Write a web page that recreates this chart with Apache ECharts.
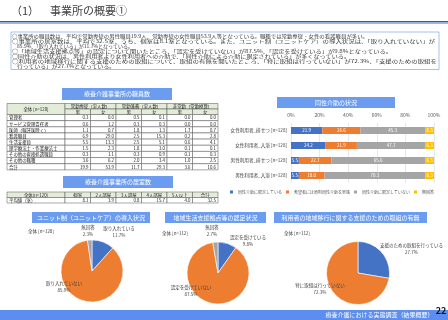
<!DOCTYPE html>
<html><head><meta charset="utf-8">
<script src="https://cdn.jsdelivr.net/npm/echarts@6/dist/echarts.min.js"></script>
<style>html,body{margin:0;padding:0;background:#fff}#c{width:448px;height:320px}</style>
</head><body><div id="c"></div>
<script>
// ---------------- DATA ----------------
const pageTitleNo = '（1）';
const pageTitle = '事業所の概要①';
const summaryLines = [
  '○事業所の職員数は、平均で常勤専従の男性職員19.9人、常勤専従の女性職員53.9人等となっている。職種では常勤専従・女性の看護職員が多い。',
  '○事業所の居室数は、平均で32.5室、うち、個室は8.1室となっている。また、ユニット制（ユニットケア）の導入状況は、「取り入れていない」が',
  '85.9%、「取り入れている」が11.7%となっている。',
  '○「地域生活支援拠点等」の認定について聞いたところ、「認定を受けていない」が87.5%、「認定を受けている」が9.8%となっている。',
  '○同性介助の状況は、男性利用者より女性利用者への介助で、「同性介助による介助に限定されている」が多くなっている。',
  '○利用者の地域移行に関する支援のための取組について、取組の有無を聞いたところ、「特に取組は行っていない」が72.3%、「支援のための取組を',
  '行っている」が27.7%となっている。'
];

const staffTitle = '療養介護事業所の職員数';
const staffCorner = '全体 [n=120]';
const staffGroups = ['常勤専従（実人数）', '常勤兼務（実人数）', '非常勤（常勤換算）'];
const staffSexes = ['男', '女'];
const staffRoles = ['管理者', 'サービス管理責任者', '医師（嘱託医除く）', '看護職員', '生活支援員', '理学療法士・作業療法士', 'その他の直接処遇職員', 'その他の職種', '合計'];
const staffFullMale   = [0.3, 0.6, 1.1, 6.9, 5.5, 1.5, 0.3, 3.6, 19.9];
const staffFullFemale = [0.0, 1.2, 0.7, 29.0, 13.3, 2.3, 1.1, 6.2, 53.9];
const staffConcMale   = [0.5, 0.3, 1.8, 2.5, 2.5, 1.8, 0.3, 2.0, 11.7];
const staffConcFemale = [0.1, 0.3, 1.3, 15.3, 5.1, 3.0, 0.9, 3.4, 29.3];
const staffPartMale   = [0.0, 0.0, 1.7, 0.2, 0.6, 0.1, 0.1, 1.0, 3.6];
const staffPartFemale = [0.0, 0.0, 0.7, 2.8, 4.1, 0.1, 0.3, 2.5, 10.6];

const roomTitle = '療養介護事業所の居室数';
const roomCorner = '全体[n=120]';
const roomRowLabel = '平均値（室）';
const roomTypes = ['個室', '2人部屋', '3人部屋', '4人部屋', '5人以上', '合計'];
const roomAvg = [8.1, 3.9, 0.8, 15.7, 4.0, 32.5];

const careTitle = '同性介助の状況';
const careCats = ['女性利用者_排せつ [n=128]', '女性利用者_入浴 [n=128]', '男性利用者_排せつ [n=128]', '男性利用者_入浴 [n=128]'];
const careNames = ['同性介助に限定している', '希望者には原則同性介助を実施', '同性介助に限定していない', '無回答'];
const careLimited    = [21.9, 24.2, 5.5, 5.5];
const careByRequest  = [26.6, 21.9, 22.7, 18.0];
const careNotLimited = [45.3, 47.7, 65.6, 70.3];
const careNoAnswer   = [6.3, 6.3, 6.3, 6.3];

const unitTitle = 'ユニット制（ユニットケア）の導入状況';
const unitN = '全体 [n=128]';
const unitNames = ['取り入れている', '取り入れていない', '無回答'];
const unitValues = [11.7, 85.9, 2.3];

const certTitle = '地域生活支援拠点等の認定状況';
const certN = '全体 [n=112]';
const certNames = ['認定を受けている', '認定を受けていない', '無回答'];
const certValues = [9.8, 87.5, 2.7];

const transTitle = '利用者の地域移行に関する支援のための取組の有無';
const transN = '全体 [n=112]';
const transNames = ['支援のための取組を行っている', '特に取組は行っていない'];
const transValues = [27.7, 72.3];

const footerText = '療養介護における実態調査（結果概要）';
const pageNo = '22';

// ---------------- STYLE / LAYOUT ----------------
const FONT = '"Noto Sans CJK JP", "Noto Sans", sans-serif';
const BLUE = '#4472C4', ORANGE = '#ED7D31', GRAY = '#A5A5A5', YELLOW = '#FFC000';
const BOX = '#6c9cf0';
const HEAD_FILL = '#e3ebd9';
const LINE = '#505050';

const mctx = document.createElement('canvas').getContext('2d');
function measure(t, size) { mctx.font = size + 'px ' + FONT; return mctx.measureText(t).width; }

function txt(x, y, text, size, fill, align, opts, weight) {
  return Object.assign({
    type: 'text', x: x, y: y, silent: true,
    style: { text: text, x: 0, y: 0, fontSize: size, fontFamily: FONT, fill: fill, fontWeight: weight || 'normal',
      align: align || 'left', textAlign: align || 'left', verticalAlign: 'middle', textVerticalAlign: 'middle' }
  }, opts || {});
}
function rect(x, y, w, h, fill, stroke, lw) {
  return { type: 'rect', silent: true, shape: { x: x, y: y, width: w, height: h },
    style: { fill: fill, stroke: stroke || null, lineWidth: lw || 0 } };
}
function headerBox(x1, y1, x2, y2, text, size) {
  return [rect(x1, y1, x2 - x1, y2 - y1, BOX), txt((x1 + x2) / 2, (y1 + y2) / 2, text, size, '#fff', 'center')];
}

const g = [];
// title
g.push(txt(11, 11, pageTitleNo, 11, '#404040', 'left'));
g.push(txt(50, 11, pageTitle, 11, '#404040', 'left'));
g.push(rect(0, 21, 448, 1.4, '#2f5ba8'));
g.push(rect(0, 22.4, 448, 1.6, '#9ab8ea'));

// summary box
g.push(rect(11, 32, 428, 37.5, '#fff', '#8fb2e6', 0.8));
const lineLeft = [12, 12, 17, 12, 12, 12, 17];
const lineRight = [368, 435, 133, 392, 350, 437, 115];
summaryLines.forEach((t, i) => {
  const fs = 4.2;
  const w = measure(t, fs);
  const s = (lineRight[i] - lineLeft[i]) / w;
  g.push(txt(lineLeft[i], 36 + 5.05 * i, t, fs, '#333', 'left', { scaleX: s, scaleY: 1 }));
});

// staff table
g.push(...headerBox(62, 88, 172, 100, staffTitle, 6));
const colX = [7, 65, 90.5, 116, 141.5, 167, 192.5, 218];
const tFs = 4.4;
const hy0 = 103.5, hy1 = 109, hy2 = 114.5, rowH = 6.15;
g.push(rect(colX[0], hy0, colX[1] - colX[0], hy2 - hy0, HEAD_FILL, LINE, 0.5));
g.push(txt((colX[0] + colX[1]) / 2, (hy0 + hy2) / 2, staffCorner, tFs, '#222', 'center'));
staffGroups.forEach((name, k) => {
  const x1 = colX[1 + 2 * k], x2 = colX[3 + 2 * k];
  g.push(rect(x1, hy0, x2 - x1, hy1 - hy0, HEAD_FILL, LINE, 0.5));
  g.push(txt((x1 + x2) / 2, (hy0 + hy1) / 2 + 0.2, name, tFs, '#222', 'center'));
  staffSexes.forEach((sx, j) => {
    const a = colX[1 + 2 * k + j], b = colX[2 + 2 * k + j];
    g.push(rect(a, hy1, b - a, hy2 - hy1, HEAD_FILL, LINE, 0.5));
    g.push(txt((a + b) / 2, (hy1 + hy2) / 2 + 0.2, sx, tFs, '#222', 'center'));
  });
});
const staffCols = [staffFullMale, staffFullFemale, staffConcMale, staffConcFemale, staffPartMale, staffPartFemale];
staffRoles.forEach((role, i) => {
  const y = hy2 + rowH * i;
  g.push(rect(colX[0], y, colX[1] - colX[0], rowH, '#fff', LINE, 0.5));
  g.push(txt(colX[0] + 2, y + rowH / 2 + 0.2, role, tFs, '#222', 'left'));
  staffCols.forEach((arr, j) => {
    g.push(rect(colX[j + 1], y, colX[j + 2] - colX[j + 1], rowH, '#fff', LINE, 0.5));
    g.push(txt(colX[j + 2] - 2, y + rowH / 2 + 0.2, arr[i].toFixed(1), tFs, '#222', 'right'));
  });
});

// room table
g.push(...headerBox(63, 176, 173, 188, roomTitle, 6));
const ry0 = 192, ry1 = 197.5, ry2 = 203;
g.push(rect(colX[0], ry0, colX[1] - colX[0], ry1 - ry0, HEAD_FILL, LINE, 0.5));
g.push(txt((colX[0] + colX[1]) / 2, (ry0 + ry1) / 2 + 0.2, roomCorner, tFs, '#222', 'center'));
g.push(rect(colX[0], ry1, colX[1] - colX[0], ry2 - ry1, '#fff', LINE, 0.5));
g.push(txt(colX[0] + 2, (ry1 + ry2) / 2 + 0.2, roomRowLabel, tFs, '#222', 'left'));
roomTypes.forEach((t, j) => {
  g.push(rect(colX[j + 1], ry0, colX[j + 2] - colX[j + 1], ry1 - ry0, HEAD_FILL, LINE, 0.5));
  g.push(txt((colX[j + 1] + colX[j + 2]) / 2, (ry0 + ry1) / 2 + 0.2, t, tFs, '#222', 'center'));
  g.push(rect(colX[j + 1], ry1, colX[j + 2] - colX[j + 1], ry2 - ry1, '#fff', LINE, 0.5));
  g.push(txt(colX[j + 2] - 2, (ry1 + ry2) / 2 + 0.2, roomAvg[j].toFixed(1), tFs, '#222', 'right'));
});

// chart section headers
g.push(...headerBox(277, 97, 395, 108, careTitle, 6));
g.push(...headerBox(32, 212, 150, 223, unitTitle, 6));
g.push(...headerBox(165, 212, 266, 223, certTitle, 6));
g.push(...headerBox(274, 212, 427, 223, transTitle, 6));
// pie n labels
g.push(txt(41, 231, unitN, 4.5, '#404040', 'center'));
g.push(txt(175, 233, certN, 4.5, '#404040', 'center'));
g.push(txt(297, 233, transN, 4.5, '#404040', 'center'));

// footer
g.push(rect(0, 310, 448, 10, '#5b8ef0'));
g.push(txt(379.5, 315, footerText, 6, '#fff', 'center'));
g.push(txt(441, 311, pageNo, 9, '#111', 'center', { z: 100 }, 'bold'));

// ---------------- CHART ----------------
const chart = echarts.init(document.getElementById('c'), null, { renderer: 'canvas' });

function barSeries(name, data, color) {
  return {
    type: 'bar', name: name, stack: 'care', data: data, barWidth: 7,
    itemStyle: { color: color },
    label: { show: true, position: 'inside', color: '#fff', fontSize: 4.5, fontFamily: FONT,
      formatter: p => p.value.toFixed(1) }
  };
}
function pieSeries(center, r, names, values, colors, labelOffsets) {
  return {
    type: 'pie', center: center, radius: r, startAngle: 90, clockwise: true,
    avoidLabelOverlap: false, silent: true,
    itemStyle: { borderColor: '#fff', borderWidth: 0.6 },
    labelLine: { show: false },
    label: { show: true, position: 'inside', fontSize: 4.5, lineHeight: 7, color: '#404040', fontFamily: FONT,
      formatter: p => p.name + '\n' + p.value.toFixed(1) + '%' },
    data: names.map((n, i) => ({ name: n, value: values[i], itemStyle: { color: colors[i] },
      label: { offset: labelOffsets[i] } }))
  };
}

chart.setOption({
  animation: false,
  textStyle: { fontFamily: FONT },
  graphic: { elements: g },
  legend: {
    data: careNames, left: 225, top: 185, width: 300, itemWidth: 3, itemHeight: 3, itemGap: 4, icon: 'rect',
    textStyle: { fontSize: 4, color: '#595959', fontFamily: FONT }
  },
  grid: { left: 291, right: 14, top: 123, bottom: 137, containLabel: false },
  xAxis: {
    type: 'value', min: 0, max: 100, interval: 20, position: 'top',
    axisLine: { show: false }, axisTick: { show: false },
    axisLabel: { formatter: '{value}%', fontSize: 5, color: '#595959', margin: 5, fontFamily: FONT },
    splitLine: { lineStyle: { color: '#d9d9d9', width: 0.6 } }
  },
  yAxis: {
    type: 'category', data: careCats, inverse: true,
    axisLine: { show: false }, axisTick: { show: false },
    axisLabel: { fontSize: 4.6, color: '#404040', margin: 4, fontFamily: FONT }
  },
  series: [
    barSeries(careNames[0], careLimited, BLUE),
    barSeries(careNames[1], careByRequest, ORANGE),
    barSeries(careNames[2], careNotLimited, GRAY),
    barSeries(careNames[3], careNoAnswer, YELLOW),
    pieSeries([92, 271], 31, unitNames, unitValues, [BLUE, ORANGE, GRAY], [[20.4, -21.7], [-22.7, -1.7], [-2.6, -21.6]]),
    pieSeries([218, 273], 31, certNames, certValues, [BLUE, ORANGE, GRAY], [[24.4, -14.4], [-22.9, -0.5], [-4.4, -23.6]]),
    pieSeries([358, 273], 31.5, transNames, transValues, [BLUE, ORANGE], [[39.2, -11.9], [-23.7, 3.9]])
  ]
});
</script>
</body></html>
